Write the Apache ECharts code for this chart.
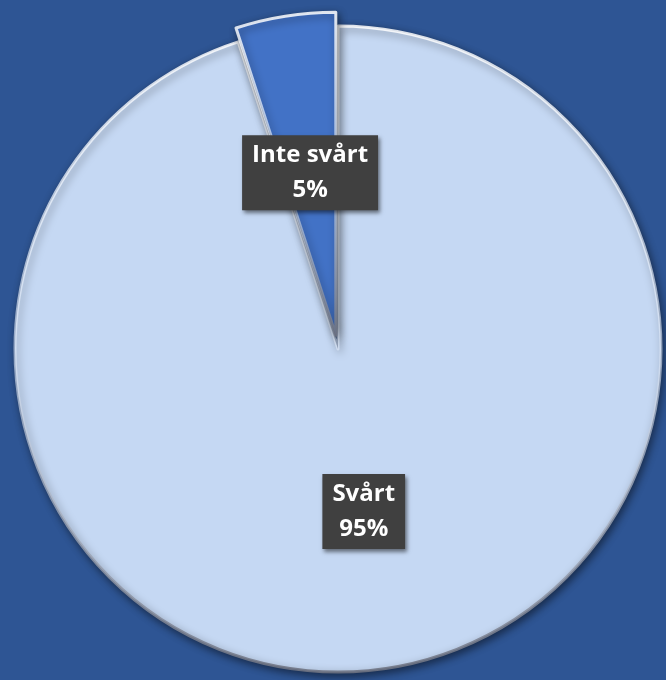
<!DOCTYPE html>
<html>
<head>
<meta charset="utf-8">
<script src="https://cdn.jsdelivr.net/npm/echarts@6/dist/echarts.min.js"></script>
<style>
  html, body { margin: 0; padding: 0; background: #2e5594; }
  #chart { width: 666px; height: 680px; }
</style>
</head>
<body>
<div id="chart"></div>
<script>
// slices, in drawing order (clockwise from 12 o'clock)
const categories = ['Svårt', 'Inte svårt']
const values = [95, 5]
const sliceColors = ['#c5d8f3', '#4272c6']
const explodedSlice = 'Inte svårt'

const chart = echarts.init(document.getElementById('chart'))

// bevel look: light rim on top, greyish rim at the bottom
const rim = new echarts.graphic.LinearGradient(0, 0, 0, 1, [
  { offset: 0, color: 'rgba(255, 255, 255, 0.85)' },
  { offset: 0.5, color: 'rgba(225, 235, 250, 0.6)' },
  { offset: 1, color: 'rgba(110, 115, 130, 0.9)' }
])

chart.setOption({
  backgroundColor: '#2e5594',
  animation: false,
  series: [{
    type: 'pie',
    center: [338, 349],
    radius: 323,
    startAngle: 90,
    clockwise: true,
    selectedMode: 'single',
    selectedOffset: 14,
    emphasis: { disabled: true },
    itemStyle: {
      borderColor: rim,
      borderWidth: 3,
      shadowColor: 'rgba(0, 0, 0, 0.5)',
      shadowBlur: 8,
      shadowOffsetX: 2,
      shadowOffsetY: 3
    },
    label: {
      show: true,
      position: 'inside',
      formatter: '{b}\n{d}%',
      color: '#ffffff',
      fontFamily: 'Open Sans',
      fontWeight: 'bold',
      fontSize: 24,
      lineHeight: 35,
      backgroundColor: '#404040',
      padding: [3, 10, 2, 10],
      shadowColor: 'rgba(0, 0, 0, 0.5)',
      shadowBlur: 4,
      shadowOffsetX: 2,
      shadowOffsetY: 3
    },
    labelLine: { show: false },
    data: categories.map((name, i) => ({
      name,
      value: values[i],
      selected: name === explodedSlice,
      itemStyle: { color: sliceColors[i] }
    }))
  }]
})
</script>
</body>
</html>
